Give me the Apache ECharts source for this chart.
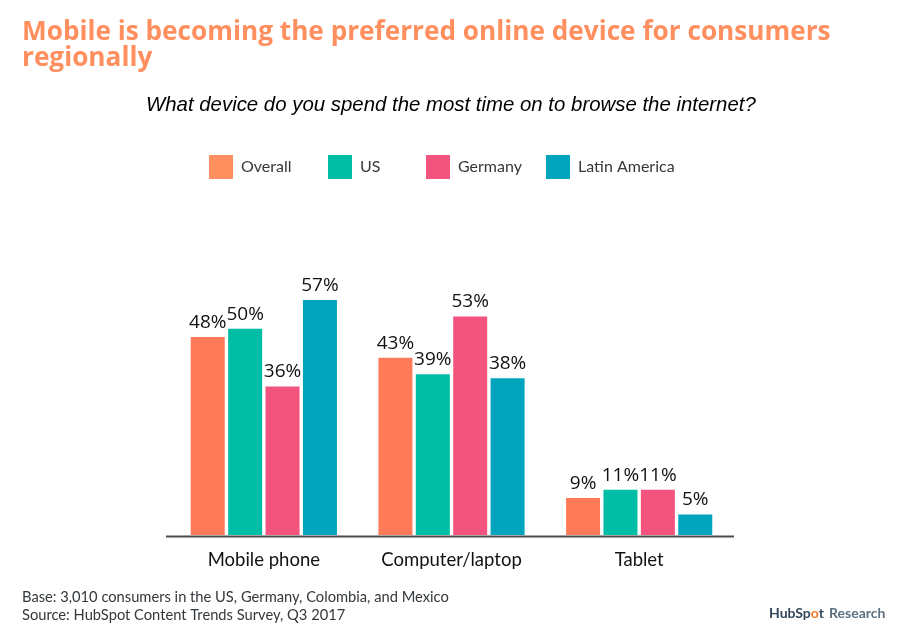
<!DOCTYPE html>
<html>
<head>
<meta charset="utf-8">
<style>html,body{margin:0;padding:0;background:#fff}</style>
</head>
<body>
<div id="main" style="width:900px;height:633px"></div>
<script src="https://cdn.jsdelivr.net/npm/echarts@6/dist/echarts.min.js"></script>
<script>
var categories = ['Mobile phone', 'Computer/laptop', 'Tablet'];
var overall = [48, 43, 9];
var us = [50, 39, 11];
var germany = [36, 53, 11];
var latinAmerica = [57, 38, 5];

var myChart = echarts.init(document.getElementById('main'));

function barSeries(name, data, color) {
    return {
        name: name,
        type: 'bar',
        data: data,
        barWidth: 34,
        barGap: '10%',
        itemStyle: { color: color },
        label: {
            show: true,
            position: 'top',
            distance: 5,
            formatter: '{c}%',
            fontFamily: 'Open Sans',
            fontSize: 19,
            color: '#111'
        }
    };
}

function legendItem(name, left, color) {
    return {
        data: [name],
        left: left,
        top: 155,
        padding: 0,
        itemWidth: 24,
        itemHeight: 24,
        itemGap: 0,
        selectedMode: false,
        icon: 'rect',
        itemStyle: { color: color },
        textStyle: { fontFamily: 'Lato', fontSize: 16, color: '#33383c', padding: [0, 0, 0, 3] }
    };
}

myChart.setOption({
    animation: false,
    backgroundColor: '#fff',
    title: [
        {
            text: 'Mobile is becoming the preferred online device for consumers\nregionally',
            left: 22,
            top: 20,
            padding: 0,
            textStyle: { fontFamily: 'Open Sans', fontWeight: 'bold', fontSize: 26.2, lineHeight: 26, color: '#ff8f5f' }
        },
        {
            text: 'What device do you spend the most time on to browse the internet?',
            left: 146,
            top: 95,
            padding: 0,
            textStyle: { fontFamily: 'Liberation Sans', fontStyle: 'italic', fontWeight: 'normal', fontSize: 20.4, color: '#000' }
        },
        {
            text: 'Base: 3,010 consumers in the US, Germany, Colombia, and Mexico\nSource: HubSpot Content Trends Survey, Q3 2017',
            left: 22,
            top: 588,
            padding: 0,
            textStyle: { fontFamily: 'Lato', fontWeight: 'normal', fontSize: 14.7, lineHeight: 18, color: '#33383c' }
        },
        {
            text: '{hub|HubSp}{dot|o}{hub|t} {res|Research}',
            left: 769,
            top: 604,
            padding: 0,
            textStyle: {
                rich: {
                    hub: { fontFamily: 'Lato', fontWeight: 'bold', fontSize: 14, color: '#33475b' },
                    dot: { fontFamily: 'Lato', fontWeight: 'bold', fontSize: 14, color: '#f57722' },
                    res: { fontFamily: 'Lato', fontSize: 14, color: '#5c7080' }
                }
            }
        }
    ],
    legend: [
        legendItem('Overall', 209, '#ff8f5f'),
        legendItem('US', 328, '#00bda5'),
        legendItem('Germany', 426, '#f2547d'),
        legendItem('Latin America', 546, '#00a4bd')
    ],
    grid: { left: 170, width: 563, top: 287.5, height: 247.5 },
    xAxis: {
        type: 'category',
        data: categories,
        axisLine: { show: false },
        axisTick: { show: false },
        axisLabel: { interval: 0, margin: 16, fontFamily: 'Lato', fontSize: 18.5, color: '#111' }
    },
    yAxis: {
        type: 'value',
        min: 0,
        max: 60,
        show: false
    },
    graphic: [
        {
            type: 'line',
            shape: { x1: 166, y1: 536.5, x2: 734, y2: 536.5 },
            style: { stroke: '#4a4a4a', lineWidth: 2 }
        }
    ],
    series: [
        barSeries('Overall', overall, '#ff7a59'),
        barSeries('US', us, '#00bda5'),
        barSeries('Germany', germany, '#f2547d'),
        barSeries('Latin America', latinAmerica, '#00a4bd')
    ]
});
</script>
</body>
</html>
